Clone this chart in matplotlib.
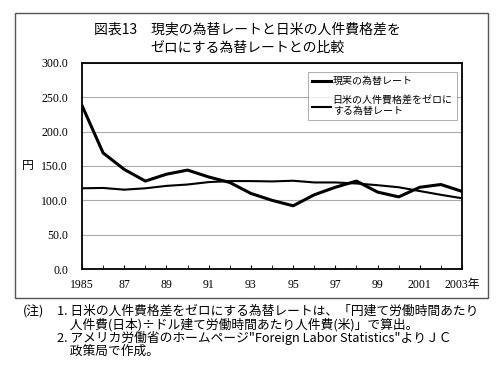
import numpy as np
import matplotlib.pyplot as plt
from matplotlib.patches import Rectangle

plt.rcParams['font.family'] = ['Noto Sans CJK JP', 'DejaVu Sans']

# data
years = list(range(1985, 2004))
actual_rate = [238, 169, 145, 128, 138, 144, 134, 126, 110, 100, 92,
               108, 119, 128, 112, 105, 119, 123, 113]
zero_gap_rate = [117.5, 118, 115.5, 117.5, 121, 123, 126.5, 128, 128, 127.5, 128.5,
                 126, 126, 124.5, 122, 119, 113.5, 108, 103]
xtick_years = [1985, 1987, 1989, 1991, 1993, 1995, 1997, 1999, 2001, 2003]
xtick_labels = ['1985', '87', '89', '91', '93', '95', '97', '99', '2001', '2003年']
yticks = [0, 50, 100, 150, 200, 250, 300]

note_lines = [
    '1. 日米の人件費格差をゼロにする為替レートは、「円建て労働時間あたり',
    '\u3000人件費(日本)÷ドル建て労働時間あたり人件費(米)」で算出。',
    '2. アメリカ労働省のホームページ"Foreign Labor Statistics"よりＪＣ',
    '\u3000政策局で作成。',
]

num_font = ['Liberation Serif', 'Noto Sans CJK JP']

fig = plt.figure(figsize=(5.0, 3.68), dpi=100)
ax = fig.add_axes([0.164, 0.269, 0.76, 0.56])

ax.plot(years, actual_rate, color='black', lw=2.2, label='現実の為替レート')
ax.plot(years, zero_gap_rate, color='black', lw=1.5, label='日米の人件費格差をゼロに\nする為替レート')

ax.set_xlim(1985, 2003)
ax.set_ylim(0, 300)
ax.set_yticks(yticks)
ax.set_yticklabels(['%.1f' % v for v in yticks], fontsize=8.5, family=num_font)
ax.tick_params(axis='y', length=0, pad=10)
ax.set_xticks(years, minor=True)
ax.set_xticks(xtick_years)
ax.set_xticklabels(xtick_labels, fontsize=8.5, family=num_font)
ax.tick_params(axis='x', which='both', direction='in', length=3, pad=7)
ax.grid(axis='y', color='#aaaaaa', lw=0.8)
for s in ax.spines.values():
    s.set_linewidth(1.3)

ax.text(-0.142, 0.5, '円', transform=ax.transAxes, fontsize=8.5, ha='center', va='center')

leg = ax.legend(loc='upper left', bbox_to_anchor=(0.595, 0.955), fontsize=7.2,
                frameon=True, fancybox=False, edgecolor='#888888',
                handlelength=1.9, handletextpad=0.15, labelspacing=1.0,
                borderpad=0.4, borderaxespad=0)
leg.get_frame().set_linewidth(0.6)
for t in leg.get_texts():
    t.set_linespacing(1.0)

# outer frame
fig.patches.append(Rectangle((15/500, 1-298/368), 473/500, 285/368,
                             transform=fig.transFigure, fill=False,
                             edgecolor='#555555', lw=1.0))

fig.text(0.495, 1-29/368, '図表13　現実の為替レートと日米の人件費格差を',
         ha='center', va='center', fontsize=10)
fig.text(0.495, 1-48/368, 'ゼロにする為替レートとの比較',
         ha='center', va='center', fontsize=10)

# notes under the frame
top = 1 - 305/368
fig.text(23/500, top, '(注)', ha='left', va='top', fontsize=9.2)
fig.text(57/500, top, '\n'.join(note_lines), ha='left', va='top',
         fontsize=9.2, linespacing=0.98)

fig.savefig('out.png', dpi=100)
